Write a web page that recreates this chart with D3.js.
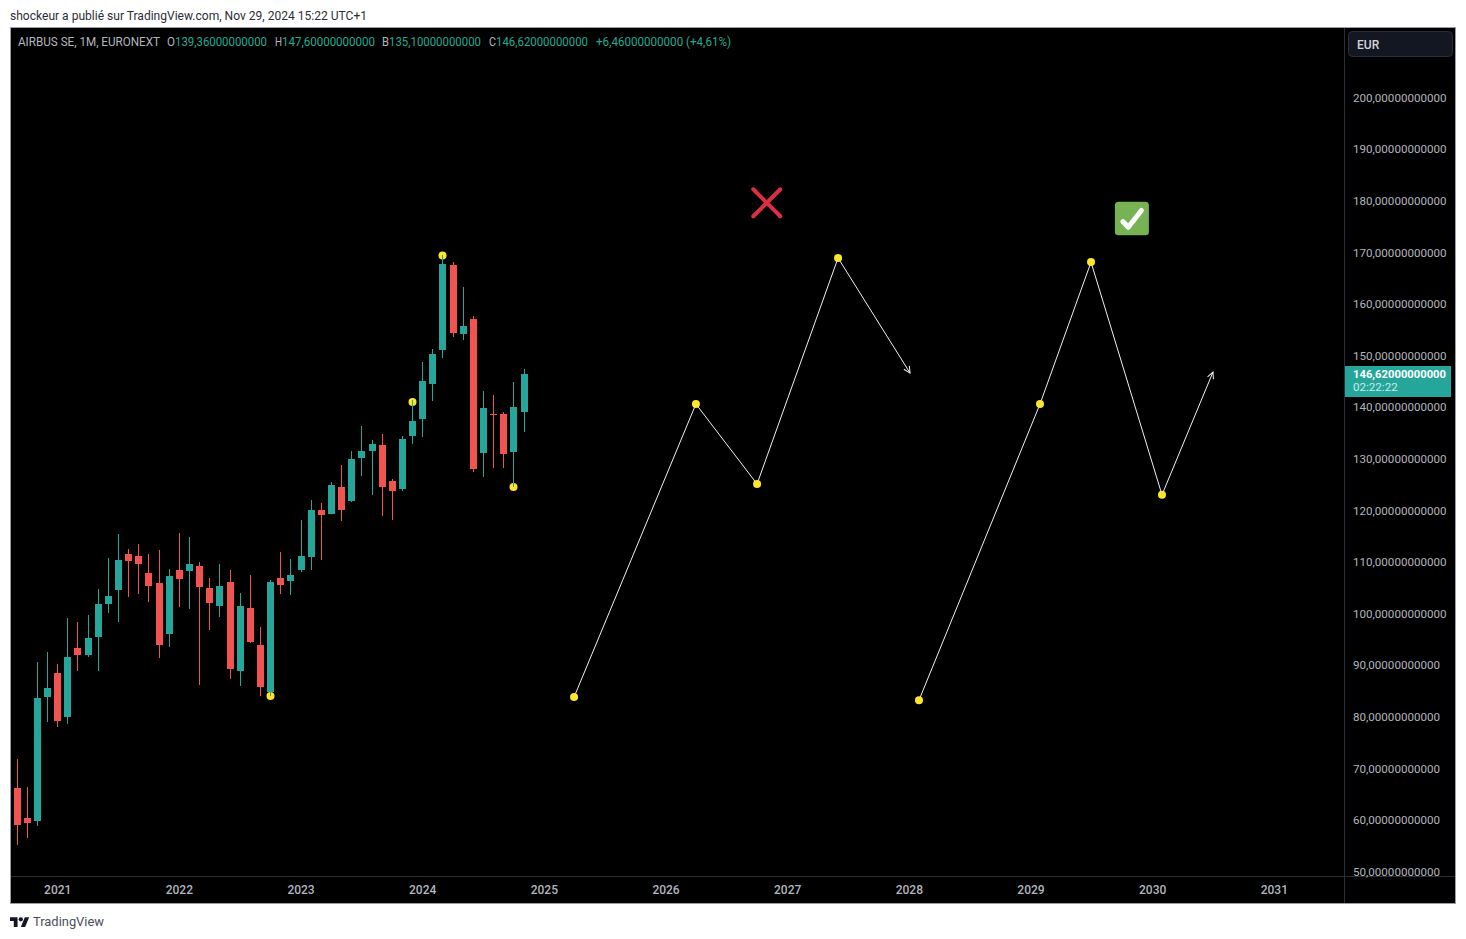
<!DOCTYPE html>
<html>
<head>
<meta charset="utf-8">
<title>AIRBUS SE, 1M, EURONEXT</title>
<script src="https://cdn.jsdelivr.net/npm/d3@7"></script>
<style>
html,body{margin:0;padding:0;background:#fff;}
svg{display:block;}
text{font-family:Roboto,"Liberation Sans",sans-serif;}
</style>
</head>
<body>
<div id="chart"></div>
<script>
// Monthly candles from Sep 2020 (month index 0) to Nov 2024
const opens  = [66.1,60.3,59.7,83.7,88.4,79.8,93.2,91.9,95.3,101.7,104.5,111.4,111.0,107.8,105.8,95.9,108.3,108.1,109.1,104.8,101.4,106.0,88.8,101.0,93.8,84.7,106.8,106.2,108.3,110.9,120.0,119.2,124.4,121.7,130.0,131.4,132.6,125.6,124.0,134.3,137.6,144.4,151.0,167.4,154.1,157.0,131.0,138.6,138.6,131.2,139.0];
const highs  = [71.7,66.3,90.5,92.4,90.1,99.0,98.3,99.6,104.7,110.7,115.3,112.4,113.4,111.4,112.2,108.5,115.5,114.7,109.9,106.8,109.5,108.3,103.9,107.4,97.3,106.4,111.8,110.5,118.0,121.9,121.3,125.4,128.7,131.4,136.2,133.5,134.7,126.0,134.3,141.3,148.6,151.2,169.4,168.0,163.2,157.6,143.0,142.2,139.0,144.8,147.3];
const lows   = [55.0,56.4,58.7,78.9,77.9,78.5,88.8,91.5,88.8,100.0,98.3,103.1,103.7,102.1,91.3,93.4,101.2,100.8,86.0,96.7,99.2,87.2,85.9,94.2,83.9,83.9,103.7,103.5,107.9,108.3,110.3,119.2,117.8,121.5,126.6,122.9,118.8,118.0,123.6,132.8,134.1,141.1,149.4,153.5,152.9,127.3,126.4,128.1,128.1,124.4,135.0];
const closes = [58.9,59.3,83.5,85.5,79.1,91.5,91.9,95.2,101.7,103.3,110.3,110.1,109.5,105.2,93.8,107.2,106.6,109.5,105.0,101.9,105.2,89.1,101.4,94.4,85.7,106.0,105.4,107.4,111.0,120.0,119.0,124.8,120.0,129.8,131.4,132.8,124.4,123.6,133.7,137.2,145.0,150.2,167.6,154.3,155.6,127.9,139.7,138.4,130.8,139.9,146.3];

// Year ticks on the time axis (month index -> label)
const yearTicks  = [4,16,28,40,52,64,76,88,100,112,124];
const yearLabels = ["2021","2022","2023","2024","2025","2026","2027","2028","2029","2030","2031"];
const priceTicks = [50,60,70,80,90,100,110,120,130,140,150,160,170,180,190,200];

// Yellow markers on historic extremes
const pivotMonths = [25,39,42,49];
const pivotPrices = [83.9,140.9,169.3,124.4];

// Drawn projections: month index and price
const projAMonths = [54.88,66.9,72.93,80.92,88.02];
const projAPrices = [83.7,140.5,125.0,168.8,146.5];
const projBMonths = [88.9,100.84,105.87,112.87,117.9];
const projBPrices = [83.1,140.5,168.0,122.9,146.7];

// Verdict annotations
const crossAt = [73.92,179.5];
const checkAt = [109.9,176.4];

const lastPrice = 146.62;
const countdown = "02:22:22";
const headerText = "shockeur a publié sur TradingView.com, Nov 29, 2024 15:22 UTC+1";
const legendParts = [
  {t:"AIRBUS SE, 1M, EURONEXT",x:18,w:142,c:"#b2b5be"},
  {t:"O",x:167,w:8,c:"#b2b5be"},{t:"139,36000000000",x:175,w:92,c:"#22ab94"},
  {t:"H",x:275,w:7,c:"#b2b5be"},{t:"147,60000000000",x:282,w:93,c:"#22ab94"},
  {t:"B",x:382,w:7,c:"#b2b5be"},{t:"135,10000000000",x:389,w:92,c:"#22ab94"},
  {t:"C",x:489,w:7,c:"#b2b5be"},{t:"146,62000000000",x:496,w:92,c:"#22ab94"},
  {t:"+6,46000000000 (+4,61%)",x:596,w:135,c:"#22ab94"}
];

const W=1466,H=939;
const UP="#26a69a",DOWN="#f15350",DOT="#fbe62d";
const frame={l:10,t:27,r:1456,b:904,axisX:1344,axisY:876};

const x=d3.scaleLinear().domain([0,124]).range([17.15,1274.34]);
const y=d3.scaleLinear().domain([50,200]).range([871,97]);

const svg=d3.select("#chart").append("svg").attr("width",W).attr("height",H).attr("viewBox",[0,0,W,H]);

svg.append("text").attr("x",10).attr("y",15.5).attr("dy","0.35em")
  .attr("font-size",12).attr("fill","#2a2e39").attr("textLength",357).attr("lengthAdjust","spacingAndGlyphs").text(headerText);

svg.append("rect").attr("x",frame.l+.5).attr("y",frame.t+.5)
  .attr("width",frame.r-frame.l-1).attr("height",frame.b-frame.t-1)
  .attr("fill","#000").attr("stroke","#9a9da6").attr("stroke-width",1);

svg.append("line").attr("x1",frame.axisX+.5).attr("x2",frame.axisX+.5).attr("y1",frame.t+1).attr("y2",frame.b-1).attr("stroke","#2a2e39");
svg.append("line").attr("x1",frame.l+1).attr("x2",frame.r-1).attr("y1",frame.axisY+.5).attr("y2",frame.axisY+.5).attr("stroke","#2a2e39");

const defs=svg.append("defs");
defs.append("marker").attr("id","arrow").attr("markerUnits","userSpaceOnUse")
  .attr("markerWidth",14).attr("markerHeight",14).attr("refX",8).attr("refY",7).attr("orient","auto")
  .append("path").attr("d","M1.5,3.8L8,7L1.5,10.2").attr("fill","none").attr("stroke","#f0f0f0").attr("stroke-width",1);

// Candles
const idx=d3.range(opens.length);
const cx=i=>Math.floor(x(i));
const candles=svg.append("g").attr("class","candles");
const dotsHist=svg.append("g").attr("class","pivots");
dotsHist.selectAll("circle").data(pivotMonths).join("circle")
  .attr("cx",d=>cx(d)+.5).attr("cy",(d,i)=>y(pivotPrices[i])).attr("r",4).attr("fill",DOT);
const colour=i=>closes[i]>=opens[i]?UP:DOWN;
const wicks=svg.append("g");
wicks.selectAll("rect.wick").data(idx).join("rect").attr("class","wick")
  .attr("x",i=>cx(i)).attr("width",1)
  .attr("y",i=>Math.round(y(highs[i])))
  .attr("height",i=>Math.round(y(lows[i]))-Math.round(y(highs[i])))
  .attr("fill",colour);
wicks.selectAll("rect.body").data(idx).join("rect").attr("class","body")
  .attr("x",i=>cx(i)-3).attr("width",7)
  .attr("y",i=>Math.round(y(Math.max(opens[i],closes[i]))))
  .attr("height",i=>Math.max(1,Math.round(y(Math.min(opens[i],closes[i])))-Math.round(y(Math.max(opens[i],closes[i])))))
  .attr("fill",colour);

// Projections
const line=d3.line().x(d=>x(d[0])+.5).y(d=>y(d[1]));
[[projAMonths,projAPrices],[projBMonths,projBPrices]].forEach(([ms,ps])=>{
  const pts=ms.map((m,i)=>[m,ps[i]]);
  const g=svg.append("g").attr("class","projection");
  g.append("path").attr("d",line(pts)).attr("fill","none").attr("stroke","#f0f0f0").attr("stroke-width",1).attr("marker-end","url(#arrow)");
  g.selectAll("circle").data(pts.slice(0,-1)).join("circle")
    .attr("cx",d=>x(d[0])+.5).attr("cy",d=>y(d[1])).attr("r",4).attr("fill",DOT);
});

// Cross and check
svg.append("path").attr("transform",`translate(${x(crossAt[0])+.2},${y(crossAt[1])})`)
  .attr("d","M-13.5,-13.5L13.5,13.5M13.5,-13.5L-13.5,13.5")
  .attr("stroke","#dd2e44").attr("stroke-width",4).attr("stroke-linecap","round").attr("fill","none");
const chk=svg.append("g").attr("transform",`translate(${x(checkAt[0])+.5},${y(checkAt[1])})`);
chk.append("rect").attr("x",-17).attr("y",-17).attr("width",34).attr("height",33.5).attr("rx",3.5).attr("fill","#77b255");
chk.append("path").attr("d","M-9,2.8L-3.6,8.5L9.5,-8.3").attr("fill","none").attr("stroke","#fff").attr("stroke-width",5).attr("stroke-linecap","round").attr("stroke-linejoin","round");

// Legend
svg.append("g").selectAll("text").data(legendParts).join("text")
  .attr("x",d=>d.x).attr("y",42).attr("dy","0.35em").attr("font-size",12)
  .attr("fill",d=>d.c).attr("textLength",d=>d.w).attr("lengthAdjust","spacingAndGlyphs").text(d=>d.t);

// Price axis
const fmt=v=>d3.format(".11f")(v).replace(".",",");
const yAxis=d3.axisRight(y).tickValues(priceTicks).tickSize(0).tickPadding(0).tickFormat(fmt);
const gy=svg.append("g").attr("transform",`translate(1353,0.5)`).call(yAxis);
gy.select(".domain").remove();
gy.selectAll("text").attr("font-size",11.6).attr("font-family","Roboto").attr("fill","#b2b5be");

// Time axis
const xAxis=d3.axisBottom(x).tickValues(yearTicks).tickSize(0).tickPadding(0).tickFormat((d,i)=>yearLabels[i]);
const gx=svg.append("g").attr("transform",`translate(-0.5,890)`).call(xAxis);
gx.select(".domain").remove();
gx.selectAll("text").attr("dy","0.35em").attr("font-size",12).attr("font-weight",500).attr("font-family","Roboto").attr("fill","#b2b5be");

// Currency box
svg.append("rect").attr("x",1348.5).attr("y",31.5).attr("width",104).attr("height",25).attr("rx",4).attr("fill","#131722").attr("stroke","#2a2e39");
svg.append("text").attr("x",1357).attr("y",45).attr("dy","0.35em").attr("font-size",12).attr("font-weight",500).attr("fill","#d1d4dc").text("EUR");

// Last price tag
const tagY=Math.round(y(lastPrice))+1;
svg.append("rect").attr("x",1345).attr("y",tagY-7).attr("width",106).attr("height",31).attr("fill",UP);
svg.append("text").attr("x",1353).attr("y",tagY+1).attr("dy","0.35em").attr("font-size",11.6).attr("font-weight",700).attr("fill","#fff").attr("textLength",93).attr("lengthAdjust","spacingAndGlyphs").text(fmt(lastPrice));
svg.append("text").attr("x",1353).attr("y",tagY+14).attr("dy","0.35em").attr("font-size",11.6).attr("fill","#c8ebe7").text(countdown);

// Footer
const logo=svg.append("g").attr("transform","translate(10,915) scale(0.54)").attr("fill","#131722");
logo.append("path").attr("d","M14 22H7V11H0V4h14v18zM28 22h-8l7.5-18h8L28 22z");
logo.append("circle").attr("cx",20).attr("cy",8).attr("r",4);
svg.append("text").attr("x",33).attr("y",921.5).attr("dy","0.35em").attr("font-size",13).attr("fill","#4a4e5a").attr("textLength",71).attr("lengthAdjust","spacingAndGlyphs").text("TradingView");
</script>
</body>
</html>
